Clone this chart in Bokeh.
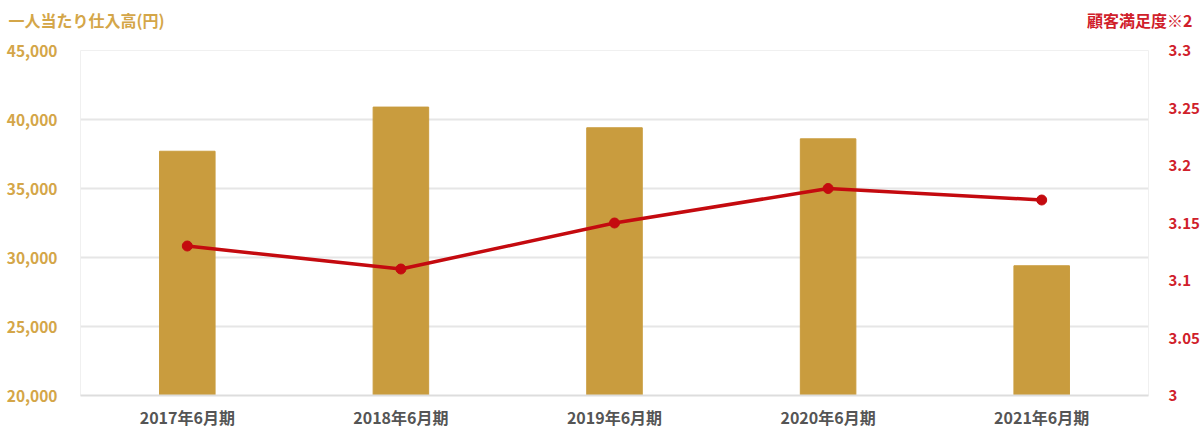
from bokeh.plotting import figure
from bokeh.models import (Range1d, LinearAxis, FixedTicker, NumeralTickFormatter,
                          CustomJSTickFormatter, Title, ColumnDataSource)
from bokeh.embed import file_html
from bokeh.resources import INLINE

categories = ["2017年6月期", "2018年6月期", "2019年6月期", "2020年6月期", "2021年6月期"]
purchase_per_person = [37700, 40900, 39400, 38600, 29400]
satisfaction = [3.13, 3.11, 3.15, 3.18, 3.17]
left_ticks = [20000, 25000, 30000, 35000, 40000, 45000]
right_ticks = [3, 3.05, 3.1, 3.15, 3.2, 3.25, 3.3]
left_title = "一人当たり仕入高(円)"
right_title = "顧客満足度※2"

GOLD = "#C99C3E"
GOLD_TXT = "#D4A648"
RED = "#C40A0F"
RED_TXT = "#D0202A"
FONT = "Noto Sans CJK JP"

src = ColumnDataSource(dict(cat=categories, val=purchase_per_person, sat=satisfaction))

p = figure(x_range=categories, y_range=Range1d(20000, 45000),
           frame_width=1068, frame_height=345,
           output_backend="svg", toolbar_location=None,
           min_border_left=80, min_border_right=52, min_border_top=50, min_border_bottom=30)
p.extra_y_ranges = {"right": Range1d(3, 3.3)}

p.vbar(x="cat", top="val", bottom=20000, width=0.26, source=src, color=GOLD)
p.line(x="cat", y="sat", source=src, y_range_name="right", line_color=RED, line_width=3.5)
p.scatter(x="cat", y="sat", source=src, y_range_name="right", size=10, color=RED)

# left axis
ya = p.yaxis[0]
ya.ticker = FixedTicker(ticks=left_ticks)
ya.formatter = NumeralTickFormatter(format="0,0")
ya.axis_line_color = None
ya.major_tick_line_color = None
ya.minor_tick_line_color = None
ya.major_label_text_color = GOLD_TXT
ya.major_label_text_font = FONT
ya.major_label_text_font_style = "bold"
ya.major_label_text_font_size = "15.5px"
ya.major_label_standoff = 17

# right axis
ra = LinearAxis(y_range_name="right", ticker=FixedTicker(ticks=right_ticks),
                formatter=CustomJSTickFormatter(code="return Number(tick.toFixed(2)).toString();"))
ra.axis_line_color = None
ra.major_tick_line_color = None
ra.minor_tick_line_color = None
ra.major_label_text_color = RED_TXT
ra.major_label_text_font = FONT
ra.major_label_text_font_style = "bold"
ra.major_label_text_font_size = "15px"
ra.major_label_standoff = 14
p.add_layout(ra, "right")

# x axis
xa = p.xaxis[0]
xa.axis_line_color = "#dddddd"
xa.axis_line_width = 2
xa.major_tick_line_color = None
xa.minor_tick_line_color = None
xa.major_label_text_color = "#555555"
xa.major_label_text_font = FONT
xa.major_label_text_font_style = "bold"
xa.major_label_text_font_size = "16px"
xa.major_label_standoff = 3

p.xgrid.grid_line_color = None
p.ygrid.grid_line_color = "#e6e6e6"
p.ygrid.grid_line_width = 2
p.outline_line_color = "#f0f0f0"
p.outline_line_width = 1

p.title = Title(text=left_title, align="left", vertical_align="top", offset=-72, standoff=-86,
                text_color=GOLD_TXT, text_font=FONT, text_font_style="bold",
                text_font_size="16px")
p.add_layout(Title(text=right_title, align="right", vertical_align="top", offset=-44,
                   standoff=-86, text_color=RED_TXT, text_font=FONT,
                   text_font_style="bold", text_font_size="16px"), "above")

open("out.html", "w").write(file_html(p, INLINE))
